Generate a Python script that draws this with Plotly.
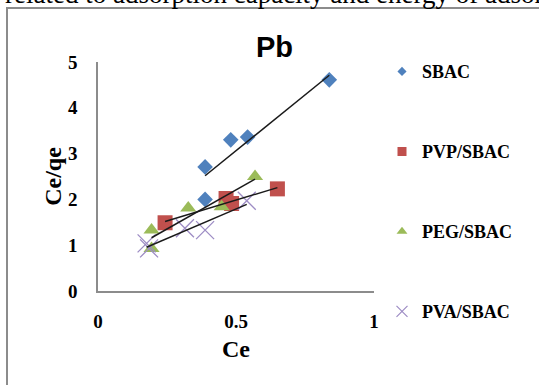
import numpy as np
import plotly.graph_objects as go

# Ce (x) and Ce/qe (y) for each adsorbent, Pb
sbac_ce = [0.388, 0.388, 0.481, 0.542, 0.838]
sbac_ceqe = [2.00, 2.71, 3.30, 3.36, 4.61]

pvp_ce = [0.243, 0.464, 0.484, 0.650]
pvp_ceqe = [1.49, 2.02, 1.91, 2.23]

peg_ce = [0.194, 0.194, 0.327, 0.448, 0.569]
peg_ceqe = [1.33, 0.93, 1.81, 1.84, 2.50]

pva_ce = [0.176, 0.185, 0.315, 0.388, 0.539]
pva_ceqe = [1.04, 0.93, 1.37, 1.33, 1.97]

names = ["SBAC", "PVP/SBAC", "PEG/SBAC", "PVA/SBAC"]
x_ticks = [0, 0.5, 1]
y_ticks = [0, 1, 2, 3, 4, 5]

series = [
    (names[0], sbac_ce, sbac_ceqe, "diamond", "#4F81BD", 12, 7, "legend"),
    (names[1], pvp_ce, pvp_ceqe, "square", "#C0504D", 15, 9, "legend2"),
    (names[2], peg_ce, peg_ceqe, "triangle-up", "#9BBB59", 14, 9.5, "legend3"),
    (names[3], pva_ce, pva_ceqe, "x-thin", "#9D8CC4", 18, 11, "legend4"),
]

SERIF = "Liberation Serif"
W, H = 539, 385
L, R, T, B = 98, 165, 62, 94
PW, PH = W - L - R, H - T - B


def px_x(p):
    return (p - L) / PW


def px_y(p):
    return 1 + (T - p) / PH


fig = go.Figure()

# data markers
for name, xs, ys, sym, col, size, _, _ in series:
    line = dict(width=1.3, color=col) if sym == "x-thin" else dict(width=0)
    fig.add_trace(go.Scatter(
        x=xs, y=ys, mode="markers", name=name, showlegend=False,
        marker=dict(symbol=sym, color=col, size=size, line=line),
    ))

# linear trendlines over each series' range
for name, xs, ys, *_ in series:
    k, b = np.polyfit(xs, ys, 1)
    xl = np.array([min(xs), max(xs)])
    fig.add_trace(go.Scatter(
        x=xl, y=k * xl + b, mode="lines", showlegend=False, hoverinfo="skip",
        line=dict(color="#1a1a1a", width=1.5),
    ))

# legend entries (smaller symbols than the plotted markers)
legend_rows = [71.7, 151.7, 231.7, 311.7]
for (name, xs, ys, sym, col, size, lsize, lg), row in zip(series, legend_rows):
    line = dict(width=1.2, color=col) if sym == "x-thin" else dict(width=0)
    fig.add_trace(go.Scatter(
        x=[None], y=[None], mode="markers", name=name, legend=lg,
        marker=dict(symbol=sym, color=col, size=lsize, line=line),
    ))

legend_common = dict(
    x=px_x(382), xanchor="left", yanchor="middle",
    bgcolor="rgba(0,0,0,0)", borderwidth=0,
    font=dict(family=SERIF, size=18, color="black", weight="bold"),
    itemsizing="trace",
)

fig.update_layout(
    width=W, height=H, autosize=False,
    margin=dict(l=L, r=R, t=T, b=B),
    paper_bgcolor="white", plot_bgcolor="white",
    title=dict(
        text="Pb", x=px_x(274.5), xref="paper", xanchor="center",
        y=1 - 47 / H, yref="container", yanchor="middle",
        font=dict(family="Liberation Sans", size=29, color="black", weight="bold"),
    ),
    legend=dict(legend_common, y=px_y(legend_rows[0])),
    legend2=dict(legend_common, y=px_y(legend_rows[1])),
    legend3=dict(legend_common, y=px_y(legend_rows[2])),
    legend4=dict(legend_common, y=px_y(legend_rows[3])),
    xaxis=dict(
        range=[0, 1], tickvals=x_ticks, ticktext=[f"{v:g}" for v in x_ticks],
        showgrid=False, zeroline=False, showline=True,
        linecolor="#8c8c8c", linewidth=1.5, ticks="", automargin=False,
        tickfont=dict(family=SERIF, size=19, color="black", weight="bold"),
        ticklabelstandoff=12,
        title=dict(text="Ce", standoff=10,
                   font=dict(family=SERIF, size=24, color="black", weight="bold")),
    ),
    yaxis=dict(
        range=[0, 5], tickvals=y_ticks,
        showgrid=False, zeroline=False, showline=True,
        linecolor="#8c8c8c", linewidth=1.5, ticks="", automargin=False,
        tickfont=dict(family=SERIF, size=19, color="black", weight="bold"),
        ticklabelstandoff=15,
        title=dict(text="Ce/qe", standoff=0,
                   font=dict(family=SERIF, size=24, color="black", weight="bold")),
    ),
    shapes=[dict(
        type="path", xref="paper", yref="paper",
        path=f"M {px_x(7)},{px_y(420)} L {px_x(7)},{px_y(8)} L {px_x(560)},{px_y(8)}",
        line=dict(color="#8c8c8c", width=2),
    )],
    annotations=[dict(
        text="related to adsorption capacity and energy of adsorption",
        xref="paper", yref="paper", x=px_x(3), y=px_y(-6),
        xanchor="left", yanchor="middle", showarrow=False,
        font=dict(family=SERIF, size=27, color="black"),
    )],
)

fig.write_html("out.html")
